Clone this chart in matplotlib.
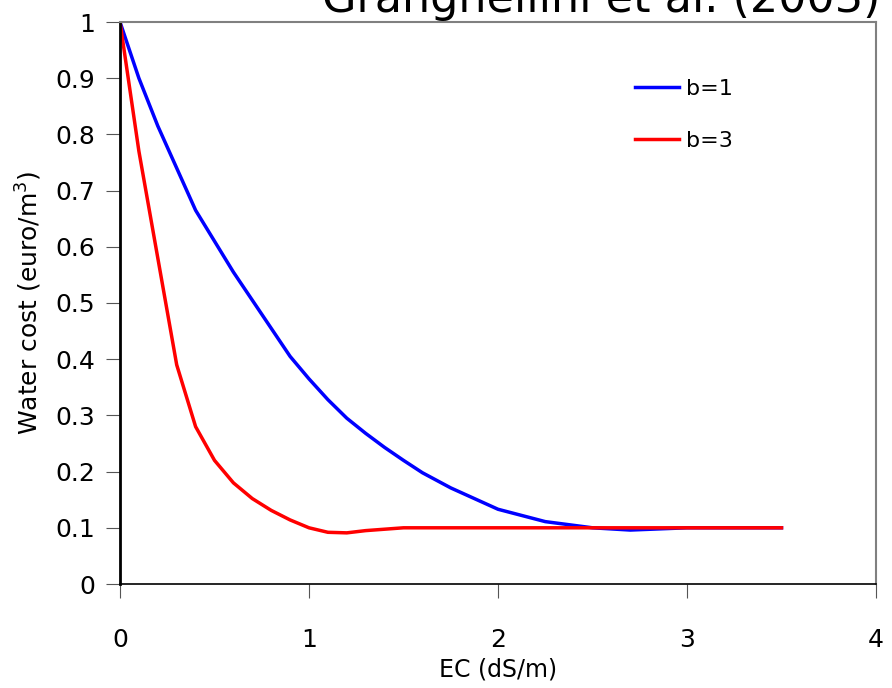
import matplotlib
matplotlib.use("Agg")
import matplotlib.pyplot as plt

# EC (dS/m) vs water cost (euro/m3)
ec_b1 = [0, 0.1, 0.2, 0.3, 0.4, 0.5, 0.6, 0.7, 0.8, 0.9, 1.0, 1.1, 1.2, 1.3,
         1.4, 1.5, 1.6, 1.75, 2.0, 2.25, 2.5, 2.7, 3.0, 3.5]
cost_b1 = [1.0, 0.9, 0.815, 0.74, 0.665, 0.61, 0.555, 0.505, 0.455, 0.405, 0.365,
           0.328, 0.295, 0.268, 0.243, 0.22, 0.198, 0.171, 0.133, 0.111, 0.1,
           0.096, 0.1, 0.1]

ec_b3 = [0, 0.1, 0.2, 0.3, 0.4, 0.5, 0.6, 0.7, 0.8, 0.9, 1.0, 1.1, 1.2, 1.3,
         1.5, 2.0, 2.5, 3.0, 3.5]
cost_b3 = [1.0, 0.77, 0.58, 0.39, 0.28, 0.22, 0.18, 0.152, 0.131, 0.114, 0.1,
           0.092, 0.091, 0.095, 0.1, 0.1, 0.1, 0.1, 0.1]

fig = plt.figure(figsize=(8.92, 6.88), dpi=100)
ax = fig.add_axes([120 / 892, 1 - 584 / 688, 756 / 892, 562 / 688])

ax.plot(ec_b1, cost_b1, color="#0000ff", lw=2.5, label="b=1")
ax.plot(ec_b3, cost_b3, color="#ff0000", lw=2.5, label="b=3")

ax.set_xlim(0, 4)
ax.set_ylim(0, 1)
ax.set_xticks([0, 1, 2, 3, 4])
ax.set_yticks([i / 10 for i in range(11)])
ax.set_yticklabels(["0"] + [f"0.{i}" for i in range(1, 10)] + ["1"])

for side in ("top", "right"):
    ax.spines[side].set_color("#808080")
    ax.spines[side].set_linewidth(1.5)
ax.spines["left"].set_color("black")
ax.spines["left"].set_linewidth(2)
ax.spines["bottom"].set_color("black")
ax.spines["bottom"].set_linewidth(1.2)
ax.tick_params(axis="both", direction="out", length=10, color="#555555",
               labelsize=18)
ax.tick_params(axis="x", pad=22)
ax.tick_params(axis="y", pad=8)

ax.set_xlabel("EC (dS/m)", fontsize=17, labelpad=4)
ax.set_ylabel("Water cost (euro/m$^3$)", fontsize=18)
ax.yaxis.set_label_coords(-0.1, 0.5)

ax.legend(loc="upper left", bbox_to_anchor=(0.655, 0.935), frameon=False,
          fontsize=16, handlelength=1.95, handletextpad=0.35, labelspacing=1.45)

# title sits mostly above the top edge, as in the original slide
fig.text(880 / 892, 1 - 12 / 688, "Granghellini et al. (2003)", fontsize=32,
         ha="right", va="baseline")

fig.savefig("out.png", dpi=100)
